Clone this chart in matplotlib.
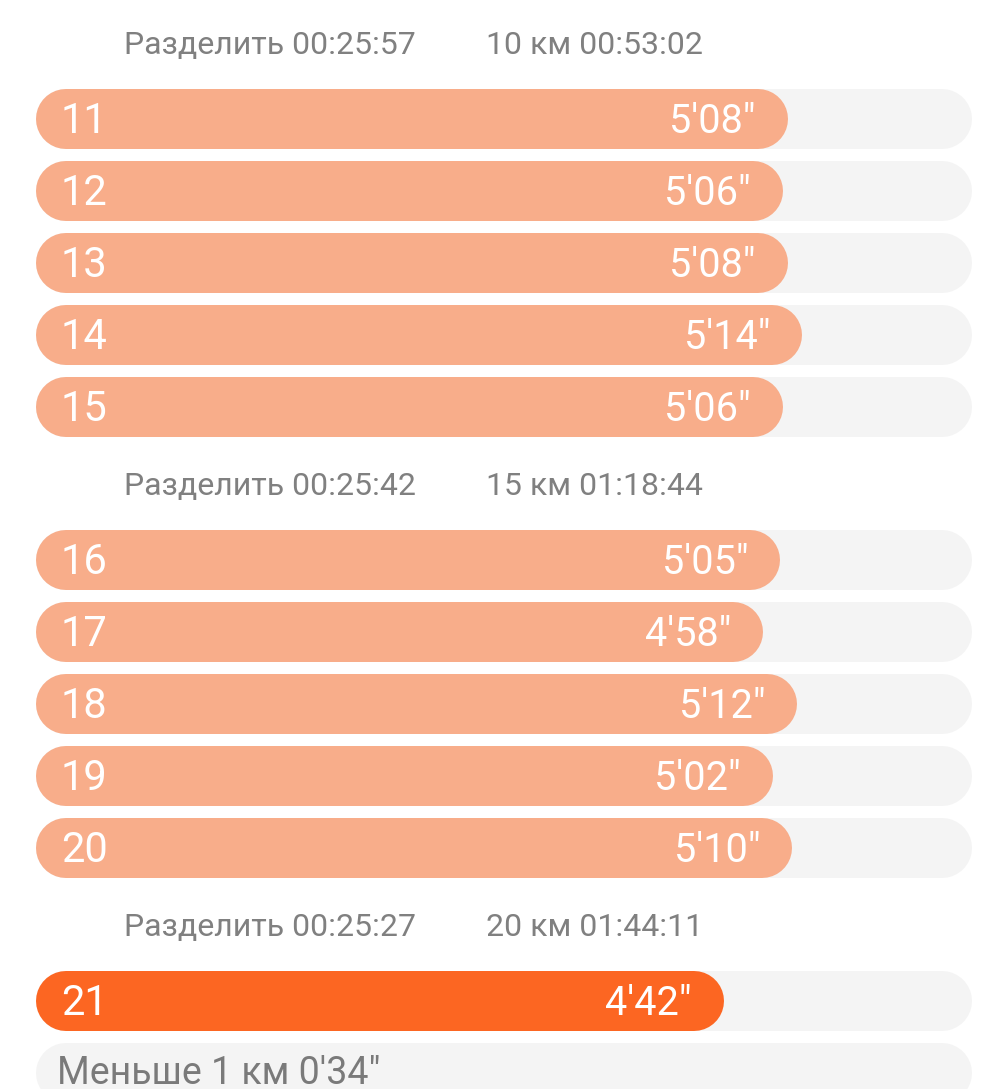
import matplotlib
matplotlib.use("Agg")
import matplotlib.pyplot as plt

plt.rcParams['font.family'] = ['Roboto', 'DejaVu Sans']

# Data
lap_numbers = [11, 12, 13, 14, 15, 16, 17, 18, 19, 20, 21]
lap_pace_sec = [308, 306, 308, 314, 306, 305, 298, 312, 302, 310, 282]
split_times = ["00:25:57", "00:25:42", "00:25:27"]
split_km = [10, 15, 20]
split_totals = ["00:53:02", "01:18:44", "01:44:11"]
remainder_label = "Меньше 1 км"
remainder_pace_sec = 34

# Styling / layout (pixels)
W, H, DPI = 996, 1089, 100
PX_PER_SEC = 2.44
LEFT_PX = 36
TRACK_END_PX = 972
BAR_H_PX = 60
ROW_PITCH = 72
HEADER_GAP = 76
LIGHT = '#F8AD8A'
DARK = '#FC6622'
TRACK = '#F4F4F4'
GREY = '#808080'
PT = 72 / DPI  # points per pixel


def fmt_pace(sec):
    return f"{sec // 60}'{sec % 60:02d}\""


fig = plt.figure(figsize=(W / DPI, H / DPI), dpi=DPI)
ax = fig.add_axes([0, 0, 1, 1])
ax.set_xlim(-LEFT_PX / PX_PER_SEC, (W - LEFT_PX) / PX_PER_SEC)
ax.set_ylim(H, 0)
ax.axis('off')

track_max = (TRACK_END_PX - LEFT_PX) / PX_PER_SEC
cap = BAR_H_PX / 2 / PX_PER_SEC
lw = BAR_H_PX * PT


def pill(y, end, color, z):
    ax.plot([cap, end - cap], [y, y], color=color, lw=lw,
            solid_capstyle='round', zorder=z)


def header(y, idx):
    ax.annotate(f"Разделить {split_times[idx]}", xy=(0, y + 11),
                xytext=(88 * PT, 0), textcoords='offset points',
                fontsize=23, color=GREY, ha='left', va='baseline')
    ax.annotate(f"{split_km[idx]} км {split_totals[idx]}", xy=(0, y + 11),
                xytext=(450 * PT, 0), textcoords='offset points',
                fontsize=23, color=GREY, ha='left', va='baseline')


y = 43
header(y, 0)
y += HEADER_GAP
for i, (lap, pace) in enumerate(zip(lap_numbers, lap_pace_sec)):
    if i > 0 and i % 5 == 0:
        y += HEADER_GAP - ROW_PITCH + 1
        header(y, i // 5)
        y += HEADER_GAP
    color = DARK if i == len(lap_numbers) - 1 else LIGHT
    pill(y, track_max, TRACK, 1)
    pill(y, pace, color, 2)
    ax.annotate(str(lap), xy=(0, y + 14), xytext=(25 * PT, 0),
                textcoords='offset points', fontsize=30, color='white',
                ha='left', va='baseline', zorder=3)
    ax.annotate(fmt_pace(pace), xy=(pace, y + 14), xytext=(-32 * PT, 0),
                textcoords='offset points', fontsize=28.5, color='white',
                ha='right', va='baseline', zorder=3)
    y += ROW_PITCH

# leftover partial km
pill(y, track_max, TRACK, 1)
ax.annotate(f"{remainder_label} {fmt_pace(remainder_pace_sec)}", xy=(0, y + 11),
            xytext=(21 * PT, 0), textcoords='offset points', fontsize=27,
            color='#7A7A7A', ha='left', va='baseline', zorder=3)

fig.savefig('out.png', dpi=DPI)
